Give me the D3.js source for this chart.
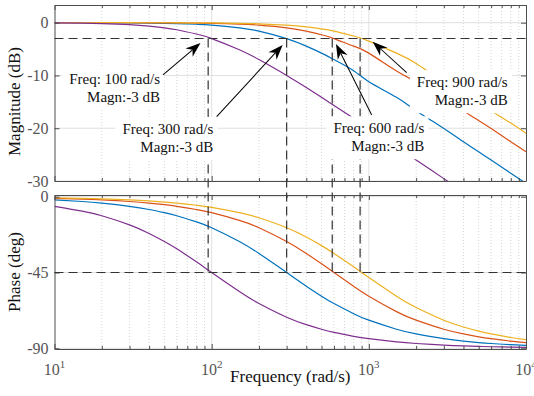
<!DOCTYPE html>
<html><head><meta charset="utf-8">
<script src="https://cdn.jsdelivr.net/npm/d3@7"></script>
<style>body{margin:0;background:#fff}svg{display:block}</style>
</head><body>
<svg id="c" width="534" height="396"></svg>
<script>
// ---------- data ----------
const freqs = [10,15,20,30,40,50,60,80,100,150,200,300,400,500,600,800,1000,1500,2000,3000,4000,5000,6000,8000,10000];
const seriesNames = ["300 rad/s","600 rad/s","900 rad/s","100 rad/s"];
const mag300 = [0.00,-0.01,-0.02,-0.04,-0.08,-0.12,-0.17,-0.30,-0.46,-0.97,-1.60,-3.01,-4.44,-5.77,-6.99,-9.09,-11.18,-14.15,-16.67,-20.04,-22.55,-24.47,-26.03,-28.53,-30.46];
const mag600 = [0.00,0.00,0.00,-0.01,-0.02,-0.03,-0.04,-0.08,-0.12,-0.26,-0.46,-0.97,-1.60,-2.29,-3.01,-4.44,-5.77,-9.17,-11.18,-14.15,-16.67,-18.54,-20.04,-22.55,-24.47];
const mag900 = [0.00,0.00,0.00,0.00,-0.01,-0.01,-0.02,-0.03,-0.05,-0.12,-0.21,-0.46,-0.78,-1.17,-1.60,-2.53,-3.49,-5.77,-7.74,-11.18,-13.17,-15.03,-16.67,-19.03,-20.95];
const mag100 = [-0.04,-0.10,-0.17,-0.37,-0.65,-0.97,-1.34,-2.15,-3.01,-5.12,-6.99,-10.00,-12.30,-14.15,-15.68,-18.13,-20.04,-23.54,-26.03,-29.55,-32.04,-33.98,-35.57,-38.06,-40.00];
const phase300 = [-1.91,-2.86,-3.81,-5.71,-7.59,-9.46,-11.31,-14.93,-18.43,-26.57,-33.69,-45.00,-53.13,-59.04,-63.43,-69.44,-73.30,-78.69,-81.47,-84.29,-85.71,-86.57,-87.14,-87.85,-88.28];
const phase600 = [-0.95,-1.43,-1.91,-2.86,-3.81,-4.76,-5.71,-7.59,-9.46,-14.04,-18.43,-26.57,-33.69,-39.81,-45.00,-53.13,-59.04,-68.20,-73.30,-78.69,-81.47,-83.16,-84.29,-85.71,-86.57];
const phase900 = [-0.64,-0.95,-1.27,-1.91,-2.54,-3.18,-3.81,-5.08,-6.34,-9.46,-12.53,-18.43,-23.96,-29.05,-33.69,-41.63,-48.01,-59.04,-65.77,-73.30,-77.32,-79.80,-81.47,-83.58,-84.86];
const phase100 = [-5.71,-8.53,-11.31,-16.70,-21.80,-26.57,-30.96,-38.66,-45.00,-56.31,-63.43,-71.57,-75.96,-78.69,-80.54,-82.87,-84.29,-86.19,-87.14,-88.09,-88.57,-88.85,-89.05,-89.28,-89.43];

const magTicks = [0,-10,-20,-30];
const phaseTicks = [0,-45,-90];
const freqTicks = [10,100,1000,10000];
const freqTickExp = ["1","2","3","4"];
const minorFreqs = [20,30,40,50,60,70,80,90,200,300,400,500,600,700,800,900,2000,3000,4000,5000,6000,7000,8000,9000];

const markerFreqs = [95,300,585,880];   // dashed verticals
const markerMag = -3, markerPhase = -45;

const annoLines = [["Freq: 100 rad/s","Magn:-3 dB"],["Freq: 300 rad/s","Magn:-3 dB"],["Freq: 600 rad/s","Magn:-3 dB"],["Freq: 900 rad/s","Magn:-3 dB"]];
const annoTextAt = [[46.9,-11.6],[102.4,-21.08],[2253,-20.95],[7646,-12.23]];
const arrowFrom = [[49.0,-9.9],[107.6,-17.8],[1043,-17.5],[1741,-9.47]];
const arrowTo = [[84.9,-3.84],[283,-4.22],[618,-4.03],[1058,-3.6]];

// ---------- styles ----------
const colors = ["#0072BD","#D95319","#EDB120","#7E2F8E"];
const axisCol = "#4d4d4d", gridCol = "#e0e0e0", minorCol = "#cccccc";
const serif = "'Liberation Serif','Times New Roman',serif";

const svg = d3.select("#c");
const x = d3.scaleLog().domain([10,10000]).range([54.5,526]);
const yMag = d3.scaleLinear().domain([-30,3.35]).range([181,5]);
const yPh = d3.scaleLinear().domain([-90.4,1]).range([349,195]);

const panels = [
  {y:yMag, ticks:magTicks, data:[mag300,mag600,mag900,mag100], label:"Magnitude (dB)", labelY:101.5, id:"m"},
  {y:yPh, ticks:phaseTicks, data:[phase300,phase600,phase900,phase100], label:"Phase (deg)", labelY:272, id:"p"}
];
const [x0,x1] = x.range();

panels.forEach(p => {
  const [yb,yt] = p.y.range();
  const g = svg.append("g");
  svg.append("clipPath").attr("id","clip"+p.id).append("rect")
    .attr("x",x0).attr("y",yt).attr("width",x1-x0).attr("height",yb-yt);
  // minor grid (dotted)
  g.append("g").selectAll("line").data(minorFreqs).join("line")
    .attr("x1",d=>x(d)).attr("x2",d=>x(d)).attr("y1",yt).attr("y2",yb)
    .attr("stroke",minorCol).attr("stroke-width",0.8).attr("stroke-dasharray","1,2");
  // major grid
  g.append("g").selectAll("line").data(freqTicks.slice(1,-1)).join("line")
    .attr("x1",d=>x(d)).attr("x2",d=>x(d)).attr("y1",yt).attr("y2",yb)
    .attr("stroke",gridCol).attr("stroke-width",1);
  g.append("g").selectAll("line").data(p.ticks).join("line")
    .attr("x1",x0).attr("x2",x1).attr("y1",d=>p.y(d)).attr("y2",d=>p.y(d))
    .attr("stroke",gridCol).attr("stroke-width",1);
  // curves
  const line = d3.line().x((d,i)=>x(freqs[i])).y(d=>p.y(d)).curve(d3.curveNatural);
  g.append("g").attr("clip-path",`url(#clip${p.id})`).selectAll("path").data(p.data).join("path")
    .attr("d",line).attr("fill","none").attr("stroke",(d,i)=>colors[i]).attr("stroke-width",1.2);
  // axes
  const styleAxis = a => { a.selectAll("path,line").attr("stroke",axisCol); a.select(".domain").attr("stroke-width",1); };
  const yl = g.append("g").attr("transform",`translate(${x0},0)`)
    .call(d3.axisLeft(p.y).tickValues(p.ticks).tickSize(-5).tickSizeOuter(0).tickPadding(6).tickFormat(d=>String(d)));
  yl.selectAll("text").attr("font-family",serif).attr("font-size",16).attr("fill","#555");
  styleAxis(yl);
  const yr = g.append("g").attr("transform",`translate(${x1},0)`)
    .call(d3.axisRight(p.y).tickValues(p.ticks).tickSize(-5).tickSizeOuter(0).tickFormat(""));
  styleAxis(yr);
  [[d3.axisBottom,yb],[d3.axisTop,yt]].forEach(([fn,yy])=>{
    const a = g.append("g").attr("transform",`translate(0,${yy})`)
      .call(fn(x).tickValues(freqTicks).tickSize(-5).tickSizeOuter(0).tickFormat(""));
    styleAxis(a);
    const m = g.append("g").attr("transform",`translate(0,${yy})`)
      .call(fn(x).tickValues(minorFreqs).tickSize(-3).tickSizeOuter(0).tickFormat(""));
    styleAxis(m);
    m.select(".domain").remove();
  });
  g.append("text").attr("transform",`translate(19.7,${p.labelY}) rotate(-90)`)
    .attr("text-anchor","middle").attr("font-family",serif).attr("font-size",17).attr("fill","#111").text(p.label);
});

// x tick labels (bottom panel)
const xl = svg.append("g").selectAll("text").data(freqTicks).join("text")
  .attr("x",d=>x(d)).attr("y",375).attr("text-anchor","middle")
  .attr("font-family",serif).attr("font-size",16).attr("fill","#555");
xl.append("tspan").text("10");
xl.append("tspan").attr("dy",-7).attr("font-size",11).text((d,i)=>freqTickExp[i]);
svg.append("text").attr("x",(x0+x1)/2).attr("y",382).attr("text-anchor","middle")
  .attr("font-family",serif).attr("font-size",17).attr("fill","#111").text("Frequency (rad/s)");

// dashed reference lines
const dash = "9,5", dcol = "#333";
svg.append("line").attr("x1",x0).attr("x2",x1).attr("y1",yMag(markerMag)).attr("y2",yMag(markerMag))
  .attr("stroke",dcol).attr("stroke-width",1.2).attr("stroke-dasharray",dash);
svg.append("line").attr("x1",x0).attr("x2",x1).attr("y1",yPh(markerPhase)).attr("y2",yPh(markerPhase))
  .attr("stroke",dcol).attr("stroke-width",1.2).attr("stroke-dasharray",dash);
svg.append("g").selectAll("line").data(markerFreqs).join("line")
  .attr("x1",d=>x(d)).attr("x2",d=>x(d)).attr("y1",yMag(markerMag)).attr("y2",yPh(markerPhase))
  .attr("stroke",dcol).attr("stroke-width",1.2).attr("stroke-dasharray",dash);

// annotations
annoLines.forEach((lines,i)=>{
  const g = svg.append("g");
  const tx = x(annoTextAt[i][0]), ty = yMag(annoTextAt[i][1]);
  const bg = g.append("rect").attr("fill","#fff");
  const tg = g.append("g");
  lines.forEach((s,j)=>{
    tg.append("text").attr("x",tx).attr("y",ty+j*18).attr("text-anchor","end")
      .attr("font-family",serif).attr("font-size",15).attr("fill","#111").text(s);
  });
  const bb = tg.node().getBBox();
  bg.attr("x",bb.x-7).attr("y",bb.y-4).attr("width",bb.width+11).attr("height",bb.height+9);
});
const L = 15, w = 5.5;
arrowFrom.forEach((f,i)=>{
  const ax = x(f[0]), ay = yMag(f[1]);
  const bx = x(arrowTo[i][0]), by = yMag(arrowTo[i][1]);
  const ang = Math.atan2(by-ay,bx-ax);
  const len = Math.hypot(bx-ax,by-ay);
  const g = svg.append("g").attr("transform",`translate(${ax},${ay}) rotate(${ang*180/Math.PI})`);
  g.append("line").attr("x1",0).attr("y1",0).attr("x2",len-L*0.7).attr("y2",0).attr("stroke","#000").attr("stroke-width",1);
  g.append("path").attr("d",`M${len},0L${len-L},${-w}L${len-L*0.7},0L${len-L},${w}Z`).attr("fill","#000");
});
</script>
</body></html>
